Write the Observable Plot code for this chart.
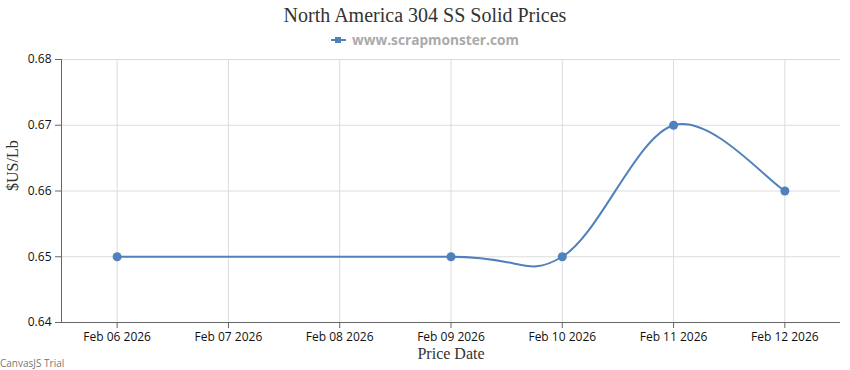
<!DOCTYPE html>
<html><head><meta charset="utf-8">
<script src="https://cdn.jsdelivr.net/npm/d3@7"></script>
<script src="https://cdn.jsdelivr.net/npm/@observablehq/plot@0.6"></script>
<style>
body{margin:0;background:#fff;width:850px;height:370px;position:relative;overflow:hidden}
#title{position:absolute;top:3px;left:0;width:850px;text-align:center;font:20px "Liberation Serif",serif;line-height:24px;color:#333}
#legend{position:absolute;top:31px;left:0;width:850px;display:flex;justify-content:center;align-items:center;font:bold 13.7px "Open Sans",sans-serif;color:#aaa;line-height:18px}
#legend .mk{position:relative;width:15px;height:2px;background:#4f81bc;margin-right:6px}
#legend .mk:after{content:"";position:absolute;left:4px;top:-2px;width:6px;height:6px;background:#4f81bc}
#chart{position:absolute;top:50px;left:0}
#trial{position:absolute;left:0;top:356px;font:10px "Open Sans",sans-serif;color:#777}
</style></head>
<body>
<div id="title">North America 304 SS Solid Prices</div>
<div id="legend"><span class="mk"></span><span id="legtext">www.scrapmonster.com</span></div>
<div id="chart"></div>
<div id="trial">CanvasJS Trial</div>
<script>
const seriesName = "www.scrapmonster.com";
const dates = ["2026-02-06","2026-02-09","2026-02-10","2026-02-11","2026-02-12"];
const prices = [0.65, 0.65, 0.65, 0.67, 0.66];
const yTicks = [0.64, 0.65, 0.66, 0.67, 0.68];
const xTickDates = ["2026-02-06","2026-02-07","2026-02-08","2026-02-09","2026-02-10","2026-02-11","2026-02-12"];
const xDomain = ["2026-02-05T12:00:00Z","2026-02-12T12:00:00Z"];
const xTitle = "Price Date";
const yTitle = "$US/Lb";

const data = dates.map((d, i) => ({date: new Date(d + "T00:00:00Z"), price: prices[i]}));
const xTicks = xTickDates.map(d => new Date(d + "T00:00:00Z"));

function canvasSpline(context) {
  let pts;
  return {
    areaStart(){}, areaEnd(){},
    lineStart(){ pts = []; },
    point(x, y){ pts.push([+x, +y]); },
    lineEnd(){
      if (!pts.length) return;
      context.moveTo(pts[0][0], pts[0][1]);
      const n = pts.length, t = 2;
      for (let i = 1; i < n; i++) {
        const a = i - 1, a0 = Math.max(0, a - 1), a2 = Math.min(n - 1, a + 1);
        const b0 = Math.max(0, i - 1), b2 = Math.min(n - 1, i + 1);
        context.bezierCurveTo(
          pts[a][0] + (pts[a2][0] - pts[a0][0]) / t / 3, pts[a][1] + (pts[a2][1] - pts[a0][1]) / t / 3,
          pts[i][0] - (pts[b2][0] - pts[b0][0]) / t / 3, pts[i][1] - (pts[b2][1] - pts[b0][1]) / t / 3,
          pts[i][0], pts[i][1]);
      }
    }
  };
}

const color = "#4f81bc";
const chart = Plot.plot({
  width: 850, height: 320,
  marginTop: 9, marginBottom: 48, marginLeft: 61, marginRight: 10,
  style: {fontFamily: "'Open Sans', sans-serif", background: "#fff"},
  x: {type: "utc", domain: xDomain.map(d => new Date(d))},
  y: {domain: [yTicks[0], yTicks[yTicks.length - 1]]},
  marks: [
    Plot.gridX(xTicks, {stroke: "#dcdcdc", strokeOpacity: 1}),
    Plot.gridY(yTicks, {stroke: "#dcdcdc", strokeOpacity: 1}),
    Plot.ruleX([new Date(xDomain[0])], {stroke: "#666"}),
    Plot.ruleY([yTicks[0]], {stroke: "#666"}),
    Plot.axisY(yTicks, {tickSize: 6, tickPadding: 4, tickFormat: d3.format(".2f"), fontSize: 12, stroke: "#666", fill: "#111", label: null}),
    Plot.axisX(xTicks, {tickSize: 6, tickPadding: 4, tickFormat: d3.utcFormat("%b %d %Y"), fontSize: 12, stroke: "#666", fill: "#111", label: null}),
    Plot.text([xTitle], {frameAnchor: "bottom", dy: 36.5, fontFamily: "'Liberation Serif', serif", fontSize: 16, fill: "#333"}),
    Plot.text([yTitle], {frameAnchor: "left", dx: -49, rotate: -90, fontFamily: "'Liberation Serif', serif", fontSize: 16, fill: "#333"}),
    Plot.line(data, {x: "date", y: "price", stroke: color, strokeWidth: 2, curve: canvasSpline}),
    Plot.dot(data, {x: "date", y: "price", r: 4.5, fill: color, stroke: "none"})
  ]
});
document.getElementById("chart").appendChild(chart);
</script>
</body></html>
